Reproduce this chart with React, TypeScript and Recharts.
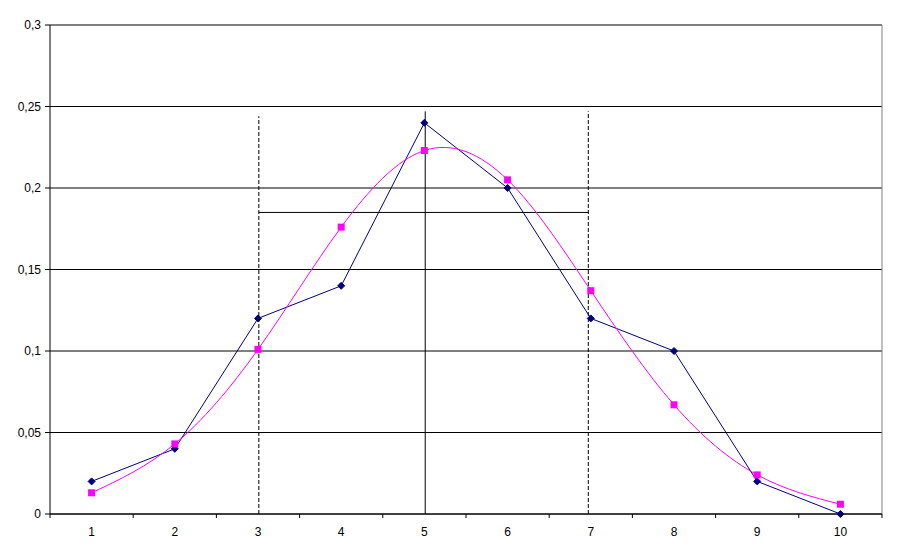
import * as React from "react"
import {
  LineChart,
  Line,
  XAxis,
  YAxis,
  CartesianGrid,
  ReferenceLine,
} from "recharts"

if (typeof document !== "undefined") document.body.style.margin = "0"

const categories = [1, 2, 3, 4, 5, 6, 7, 8, 9, 10]
const observed = [0.02, 0.04, 0.12, 0.14, 0.24, 0.2, 0.12, 0.1, 0.02, 0]
const fitted = [0.013, 0.043, 0.101, 0.176, 0.223, 0.205, 0.137, 0.067, 0.024, 0.006]
const yTicks = [0, 0.05, 0.1, 0.15, 0.2, 0.25, 0.3]

// markers drawn over the chart: spread bounds, mean, and the bracket between
const lowX = 3.01
const highX = 6.97
const meanX = 5.01
const lowTop = 0.244
const highTop = 0.247
const meanTop = 0.247
const bracketY = 0.185

const data = categories.map((c, i) => ({ x: c, observed: observed[i], fitted: fitted[i] }))

const W = 897
const H = 558
const M = { top: 25, right: 15, left: 0, bottom: 14 }
const Y_AXIS_W = 50
const PLOT_W = W - Y_AXIS_W - M.left - M.right
const HALF_BAND = PLOT_W / categories.length / 2
const X_GAP = 13

const font = { fontFamily: "'Liberation Sans', Arial, sans-serif", fontSize: 12, fill: "#000" }

function XTick({ x, y, payload, index }: any) {
  const base = y - X_GAP
  return (
    <g>
      {index === 0 && (
        <line x1={x - HALF_BAND} x2={x - HALF_BAND} y1={base} y2={base + 4} stroke="#000" />
      )}
      <line x1={x + HALF_BAND} x2={x + HALF_BAND} y1={base} y2={base + 4} stroke="#000" />
      <text x={x} y={y} dy="0.71em" textAnchor="middle" {...font}>
        {payload.value}
      </text>
    </g>
  )
}

function Diamond({ cx, cy }: any) {
  if (cx == null || cy == null) return null
  const r = 3.5
  return (
    <polygon
      points={`${cx},${cy - r} ${cx + r},${cy} ${cx},${cy + r} ${cx - r},${cy}`}
      fill="#000080"
      stroke="#000080"
    />
  )
}

function Square({ cx, cy }: any) {
  if (cx == null || cy == null) return null
  return <rect x={cx - 3.5} y={cy - 3.5} width={7} height={7} fill="#FF00FF" />
}

export default function App() {
  return (
    <div style={{ width: W, height: H, background: "#fff" }}>
      <LineChart width={W} height={H} data={data} margin={M}>
        <CartesianGrid vertical={false} stroke="#000" />
        <XAxis
          dataKey="x"
          type="number"
          domain={[0.5, 10.5]}
          ticks={categories}
          height={30}
          tickLine={false}
          tickSize={0}
          tickMargin={X_GAP}
          axisLine={{ stroke: "#000" }}
          tick={<XTick />}
        />
        <YAxis
          width={Y_AXIS_W}
          domain={[0, 0.3]}
          ticks={yTicks}
          tickSize={5}
          tickMargin={4}
          tickLine={{ stroke: "#000" }}
          axisLine={{ stroke: "#000" }}
          tick={font}
          tickFormatter={(v: number) => String(v).replace(".", ",")}
        />
        <ReferenceLine y={0.3} stroke="#808080" />
        <ReferenceLine x={10.5} stroke="#808080" />
        <ReferenceLine
          segment={[{ x: lowX, y: 0 }, { x: lowX, y: lowTop }]}
          stroke="#000"
          strokeDasharray="4 2"
        />
        <ReferenceLine
          segment={[{ x: highX, y: 0 }, { x: highX, y: highTop }]}
          stroke="#000"
          strokeDasharray="4 2"
        />
        <ReferenceLine
          segment={[{ x: meanX, y: 0 }, { x: meanX, y: meanTop }]}
          stroke="#000"
        />
        <ReferenceLine
          segment={[{ x: lowX, y: bracketY }, { x: highX, y: bracketY }]}
          stroke="#000"
        />
        <Line
          dataKey="observed"
          type="linear"
          stroke="#000080"
          strokeWidth={1}
          dot={<Diamond />}
          activeDot={false}
          isAnimationActive={false}
        />
        <Line
          dataKey="fitted"
          type="natural"
          stroke="#FF00FF"
          strokeWidth={1}
          dot={<Square />}
          activeDot={false}
          isAnimationActive={false}
        />
      </LineChart>
    </div>
  )
}
